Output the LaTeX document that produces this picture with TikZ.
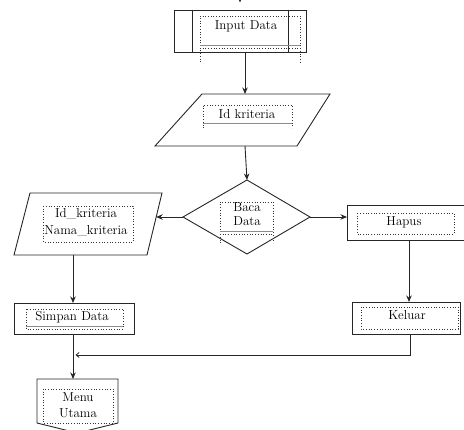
\documentclass[tikz,border=0pt]{standalone}
\usetikzlibrary{arrows.meta}
\begin{document}
\begin{tikzpicture}[x=1pt,y=-1pt,
  outline/.style={draw=black!85,line width=0.9pt},
  inbox/.style={draw=black!80,dotted,line width=0.7pt},
  rule/.style={draw=black!45,line width=1pt},
  flow/.style={draw=black!85,line width=0.9pt,-{Stealth[length=6.5pt,width=5.5pt]}},
  joinflow/.style={draw=black!85,line width=0.8pt,-{Straight Barb[length=3pt,width=5pt]}},
  label/.style={font=\fontsize{13}{16}\selectfont,inner sep=0pt,align=center,text=black}]
\useasboundingbox (0,0) rectangle (464,430);
\clip (0,0) rectangle (464,430);

% Input Data (predefined process)
\draw[outline] (174,10) rectangle (306,52);
\draw[outline] (192,10) -- (192,52) (288,10) -- (288,52);
\draw[inbox] (200,62) -- (200,16) -- (300,16) -- (300,62);
\draw[rule] (200,46) -- (300,46);
\draw[inbox] (200,48) -- (300,48);
\node[label] (input) at (246,26) {Input Data};
\coordinate (entry) at (240,-12);
\coordinate (inputIn) at (240,2.5);
\coordinate (inputS) at (245,52);

% Id kriteria (input)
\draw[outline] (202,94) -- (330,94) -- (297,146) -- (155,146) -- cycle;
\draw[inbox] (203,128) -- (203,105) -- (292,105) -- (292,128);
\draw[rule] (203,124) -- (292,124);
\node[label] (idk) at (247,114) {Id kriteria};
\coordinate (idN) at (245,94);
\coordinate (idS) at (245,146);

% Baca Data (decision)
\draw[outline] (247,180) -- (310,217) -- (247,254) -- (183,217) -- cycle;
\draw[inbox] (220,243) -- (220,202) -- (273,202) -- (273,243);
\draw[rule] (220,232) -- (273,232);
\draw[inbox] (220,234) -- (273,234);
\node[label,font=\fontsize{13}{14}\selectfont] (baca) at (247,214) {Baca\\Data};
\coordinate (dN) at (247,180);
\coordinate (dW) at (183,217);
\coordinate (dE) at (310,217);

% Id_kriteria / Nama_kriteria (input)
\draw[outline] (30,193) -- (162,193) -- (147,255) -- (14,255) -- cycle;
\draw[inbox] (43,206) rectangle (133,242);
\node[label,font=\fontsize{13}{17}\selectfont] (fields) at (86,222) {Id\_kriteria\\Nama\_kriteria};
\coordinate (lpE) at (156.2,217);
\coordinate (lpS) at (73,255);

% Simpan Data (process)
\draw[outline] (14,303) rectangle (134,334);
\draw[inbox] (26,309) rectangle (123,329);
\draw[rule] (26,327) -- (123,327);
\node[label] (simpan) at (72,317) {Simpan Data};
\coordinate (simN) at (73,303);
\coordinate (simS) at (73,334);

% Menu Utama (off-page connector)
\draw[outline] (37,379) -- (118,379) -- (118,423) -- (77.5,433) -- (37,423) -- cycle;
\draw[inbox] (43,389) rectangle (113,423);
\node[label] (menu) at (78,405) {Menu\\Utama};
\coordinate (menuN) at (73,379);
\coordinate (join) at (75.5,355);

% Hapus (process)
\draw[outline] (347,205) rectangle (470,240);
\draw[inbox] (357,213) rectangle (454,234);
\node[label] (hapus) at (404,222) {Hapus};
\coordinate (hapW) at (347,217);
\coordinate (hapS) at (409,240);

% Keluar (process)
\draw[outline] (352,302) rectangle (460,334);
\draw[inbox] (361,307) rectangle (458,329);
\node[label] (keluar) at (407,315) {Keluar};
\coordinate (kelN) at (409,302);
\coordinate (kelS) at (410,334);

% connectors
\draw[flow] (entry) -- (inputIn);
\draw[flow] (inputS) -- (idN);
\draw[flow] (idS) -- (dN);
\draw[flow] (dW) -- (lpE);
\draw[flow] (dE) -- (hapW);
\draw[flow] (lpS) -- (simN);
\draw[flow] (simS) -- (menuN);
\draw[flow] (hapS) -- (kelN);
\draw[joinflow] (kelS) |- (join);
\end{tikzpicture}
\end{document}
